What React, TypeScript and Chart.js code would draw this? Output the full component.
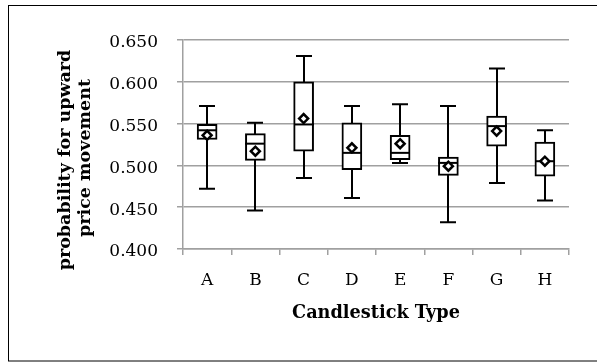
import React, { useEffect, useRef } from "react";
import { Chart, registerables } from "chart.js";

Chart.register(...registerables);

const categories = ["A", "B", "C", "D", "E", "F", "G", "H"];
const whiskerMin = [0.472, 0.446, 0.485, 0.461, 0.503, 0.432, 0.479, 0.458];
const q1 = [0.531, 0.506, 0.517, 0.495, 0.507, 0.488, 0.523, 0.487];
const median = [0.542, 0.526, 0.549, 0.515, 0.515, 0.503, 0.547, 0.505];
const q3 = [0.549, 0.538, 0.6, 0.551, 0.536, 0.51, 0.559, 0.528];
const whiskerMax = [0.571, 0.551, 0.631, 0.571, 0.573, 0.571, 0.616, 0.542];
const mean = [0.536, 0.517, 0.556, 0.521, 0.526, 0.499, 0.541, 0.505];

const yTitle = ["probability for upward", "price movement"];
const xTitle = "Candlestick Type";

const GRID = "#a0a0a0";
const FONT = "'DejaVu Serif', 'Liberation Serif', serif";

const boxPlugin = {
  id: "boxParts",
  beforeDraw(chart: any) {
    const ctx = chart.ctx;
    ctx.save();
    ctx.strokeStyle = "#000";
    ctx.lineWidth = 1;
    ctx.strokeRect(8.5, 5.5, 800, 355.5);
    ctx.restore();
  },
  beforeDatasetsDraw(chart: any) {
    const ctx = chart.ctx;
    const xs = chart.scales.x;
    const ys = chart.scales.y;
    const cap = 8;
    ctx.save();
    ctx.strokeStyle = "#000";
    ctx.lineWidth = 2;
    categories.forEach((c, i) => {
      const x = Math.round(xs.getPixelForValue(i));
      const yMin = ys.getPixelForValue(whiskerMin[i]);
      const yMax = ys.getPixelForValue(whiskerMax[i]);
      ctx.beginPath();
      ctx.moveTo(x, yMin);
      ctx.lineTo(x, yMax);
      ctx.moveTo(x - cap, yMin);
      ctx.lineTo(x + cap, yMin);
      ctx.moveTo(x - cap, yMax);
      ctx.lineTo(x + cap, yMax);
      ctx.stroke();
    });
    ctx.restore();
  },
  afterDatasetDraw(chart: any, args: any) {
    if (args.index !== 0) return;
    const ctx = chart.ctx;
    const xs = chart.scales.x;
    const ys = chart.scales.y;
    const half = 10;
    ctx.save();
    ctx.strokeStyle = "#000";
    ctx.lineWidth = 2;
    categories.forEach((c, i) => {
      const x = Math.round(xs.getPixelForValue(i));
      const y = ys.getPixelForValue(median[i]);
      ctx.beginPath();
      ctx.moveTo(x - half, y);
      ctx.lineTo(x + half, y);
      ctx.stroke();
    });
    ctx.restore();
  },
  afterDraw(chart: any) {
    const ctx = chart.ctx;
    ctx.save();
    ctx.fillStyle = "#000";
    ctx.font = "bold 17.5px " + FONT;
    ctx.textAlign = "center";
    ctx.textBaseline = "middle";
    const pos = [
      [65.5, 160],
      [85, 158],
    ];
    yTitle.forEach((line, i) => {
      ctx.save();
      ctx.translate(pos[i][0], pos[i][1]);
      ctx.rotate(-Math.PI / 2);
      ctx.fillText(line, 0, 0);
      ctx.restore();
    });
    ctx.restore();
  },
};

export default function App() {
  const ref = useRef<HTMLCanvasElement>(null);
  useEffect(() => {
    if (!ref.current) return;
    const chart = new Chart(ref.current, {
      type: "bar",
      data: {
        labels: categories,
        datasets: [
          {
            type: "bar",
            data: categories.map((_, i) => [q1[i], q3[i]]),
            backgroundColor: "#fff",
            borderColor: "#000",
            borderWidth: 2,
            borderSkipped: false,
            barThickness: 20,
            order: 2,
          } as any,
          {
            type: "line",
            data: mean,
            showLine: false,
            pointStyle: "rectRot",
            pointRadius: 4.5,
            pointBackgroundColor: "#fff",
            pointBorderColor: "#000",
            pointBorderWidth: 2.5,
            order: 1,
          } as any,
        ],
      },
      options: {
        responsive: false,
        animation: false,
        layout: { padding: { left: 0, top: 40, right: 28, bottom: 0 } },
        plugins: { legend: { display: false }, tooltip: { enabled: false } },
        scales: {
          x: {
            afterFit: (s: any) => {
              s.height = 113;
            },
            grid: {
              display: true,
              drawOnChartArea: false,
              drawTicks: true,
              tickLength: 6,
              color: GRID,
              lineWidth: 1.5,
              offset: true,
            },
            border: { color: GRID, width: 1.5 },
            ticks: { color: "#000", font: { family: FONT, size: 17 }, padding: 15 },
            title: {
              display: true,
              text: xTitle,
              color: "#000",
              font: { family: FONT, size: 17.7, weight: "bold", lineHeight: 1.2 },
              padding: { top: 0, bottom: 38 },
            },
          },
          y: {
            min: 0.4,
            max: 0.65,
            afterFit: (s: any) => {
              s.width = 183;
            },
            grid: { color: GRID, lineWidth: 1.5, tickLength: 6 },
            border: { color: GRID, width: 1.5 },
            ticks: {
              stepSize: 0.05,
              color: "#000",
              font: { family: FONT, size: 17 },
              padding: 19,
              labelOffset: 3,
              callback: (v: any) => Number(v).toFixed(3),
            },
          },
        },
      },
      plugins: [boxPlugin],
    });
    return () => chart.destroy();
  }, []);
  return (
    <canvas
      ref={ref}
      width={597}
      height={362}
      style={{ position: "fixed", left: 0, top: 0, width: 597, height: 362 }}
    />
  );
}
